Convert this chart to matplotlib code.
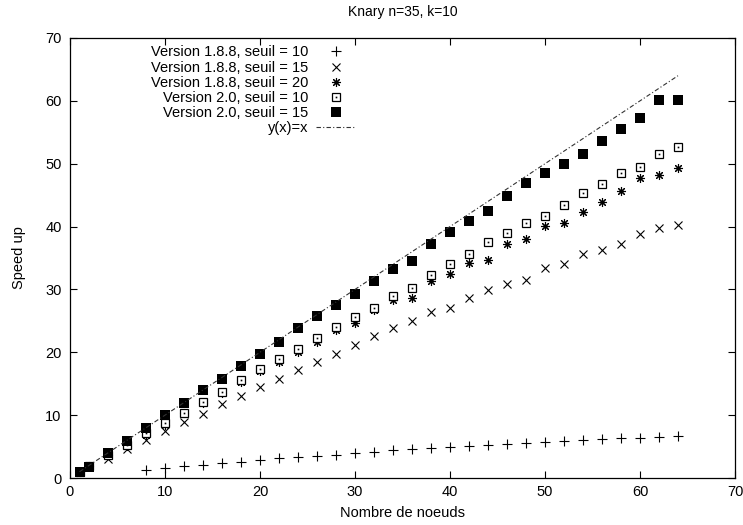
import numpy as np
import matplotlib
matplotlib.use("Agg")
import matplotlib.pyplot as plt
from matplotlib.legend_handler import HandlerTuple

plt.rcParams['font.family'] = ['Liberation Sans', 'DejaVu Sans']

# nodes used for each run
nodes_all = [1, 2] + list(range(4, 65, 2))
nodes_plus = list(range(8, 65, 2))

# Version 1.8.8
v188_s10 = [1.2, 1.6, 1.9, 2.1, 2.4, 2.6, 2.9, 3.2, 3.3, 3.5, 3.7, 3.9, 4.2, 4.4, 4.6,
            4.7, 4.9, 5.1, 5.3, 5.4, 5.5, 5.8, 5.9, 6.0, 6.2, 6.3, 6.4, 6.5, 6.7]
v188_s15 = [1.0, 1.9, 3.1, 4.6, 6.0, 7.5, 8.9, 10.2, 11.7, 13.0, 14.5, 15.7, 17.2, 18.5,
            19.7, 21.1, 22.6, 23.9, 24.9, 26.4, 27.0, 28.7, 29.9, 30.9, 31.5, 33.4, 34.1,
            35.7, 36.2, 37.2, 38.8, 39.7, 40.3]
v188_s20 = [1.0, 1.9, 3.7, 5.1, 6.8, 8.5, 10.3, 11.9, 13.6, 15.2, 17.0, 18.5, 20.1, 21.7,
            23.5, 24.6, 26.7, 28.3, 28.6, 31.4, 32.5, 34.2, 34.7, 37.2, 38.1, 40.1, 40.5,
            42.3, 43.9, 45.7, 47.7, 48.2, 49.3]
# Version 2.0
v20_s10 = [1.0, 1.9, 3.7, 5.2, 7.1, 8.7, 10.4, 12.1, 13.7, 15.6, 17.3, 19.0, 20.6, 22.2,
           24.1, 25.6, 27.0, 29.0, 30.3, 32.3, 34.1, 35.6, 37.5, 38.9, 40.5, 41.7, 43.5,
           45.3, 46.7, 48.6, 49.4, 51.5, 52.7]
v20_s15 = [0.9, 1.8, 3.9, 5.9, 7.9, 10.0, 11.9, 14.0, 15.8, 17.8, 19.8, 21.6, 23.8, 25.8,
           27.5, 29.2, 31.3, 33.3, 34.6, 37.3, 39.2, 40.9, 42.5, 44.8, 46.9, 48.6, 49.9,
           51.6, 53.6, 55.6, 57.3, 60.1, 60.2]

ideal_x = [1, 64]

fs = 10.5

fig = plt.figure(figsize=(7.43, 5.25), dpi=100)
ax = fig.add_axes([70 / 743, 1 - 478 / 525, 665 / 743, 440 / 525])

h1, = ax.plot(nodes_plus, v188_s10, ls='none', marker='+', ms=6.5, mew=0.8, color='black')
h2, = ax.plot(nodes_all, v188_s15, ls='none', marker='x', ms=5.5, mew=0.8, color='black')
h3, = ax.plot(nodes_all, v188_s20, ls='none', marker=(8, 2, 0), ms=6.5, mew=0.8, color='black')
h4, = ax.plot(nodes_all, v20_s10, ls='none', marker='s', ms=6, mew=0.9,
              mfc='white', mec='black')
h4b, = ax.plot(nodes_all, v20_s10, ls='none', marker='s', ms=1.2, mew=0,
               color='black')
h5, = ax.plot(nodes_all, v20_s15, ls='none', marker='s', ms=7, mew=0, color='black')
h6, = ax.plot(ideal_x, ideal_x, ls=(0, (4, 2, 1, 2)), lw=0.8, color='#333333')

ax.set_xlim(0, 70)
ax.set_ylim(0, 70)
ax.set_xticks(range(0, 71, 10))
ax.set_yticks(range(0, 71, 10))
ax.tick_params(direction='in', top=True, right=True, length=5, labelsize=fs)
ax.tick_params(axis='x', pad=5)
ax.tick_params(axis='y', pad=6)
for s in ax.spines.values():
    s.set_linewidth(0.9)

ax.set_xlabel('Nombre de noeuds', fontsize=fs, labelpad=5)
ax.set_ylabel('Speed up', fontsize=fs, labelpad=14)
ax.set_title('Knary n=35, k=10', fontsize=10, pad=16)

ax.legend([h1, h2, h3, (h4, h4b), h5, h6],
          ['Version 1.8.8, seuil = 10', 'Version 1.8.8, seuil = 15',
           'Version 1.8.8, seuil = 20', 'Version 2.0, seuil = 10',
           'Version 2.0, seuil = 15', 'y(x)=x'],
          handler_map={tuple: HandlerTuple(ndivide=1)},
          loc='upper left', bbox_to_anchor=(0.115, 0.993), borderaxespad=0,
          frameon=False, markerfirst=False, fontsize=fs, handlelength=2.75,
          handletextpad=0.55, labelspacing=0.08, borderpad=0.3)

fig.savefig('out.png', dpi=100)
